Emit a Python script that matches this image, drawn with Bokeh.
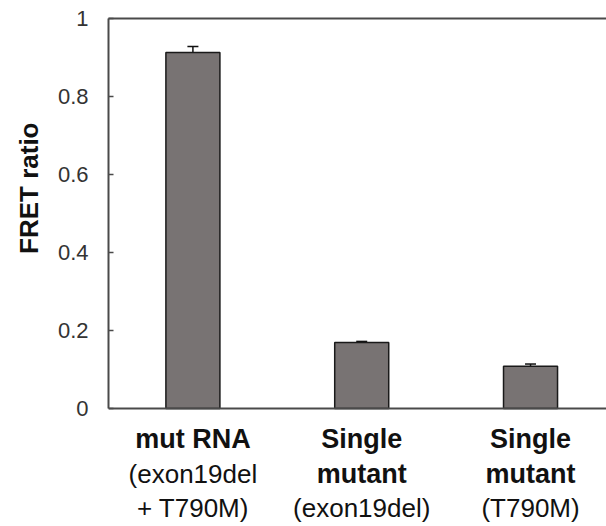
from bokeh.plotting import figure
from bokeh.models import (ColumnDataSource, Whisker, TeeHead, Range1d, LinearAxis,
                          FixedTicker, CustomJSTickFormatter, Span, Title)
from bokeh.core.properties import value
from bokeh.embed import file_html
from bokeh.resources import INLINE

# ---- data ----
categories = ["mut RNA (exon19del + T790M)", "Single mutant (exon19del)", "Single mutant (T790M)"]
fret_ratio = [0.913, 0.169, 0.108]
fret_error = [0.015, 0.003, 0.006]
y_ticks = [0, 0.2, 0.4, 0.6, 0.8, 1.0]
y_title = "FRET ratio"
label_lines = [["mut RNA", "(exon19del", "+ T790M)"],
               ["Single", "mutant", "(exon19del)"],
               ["Single", "mutant", "(T790M)"]]
label_bold = [[True, False, False],
              [True, True, False],
              [True, True, False]]

xpos = list(range(len(categories)))
src = ColumnDataSource(dict(
    x=xpos, top=fret_ratio,
    upper=[v + e for v, e in zip(fret_ratio, fret_error)],
    lower=[v - e for v, e in zip(fret_ratio, fret_error)],
))

AX = "#4a4a4a"
FONT = "Liberation Sans"
Y_BOTTOM = -0.3026   # room below zero for the category captions

p = figure(width=606, height=526, output_backend="svg", toolbar_location=None,
           x_range=Range1d(-0.5, 2.45), y_range=Range1d(Y_BOTTOM, 1),
           min_border_left=106, min_border_right=0, min_border_top=18, min_border_bottom=0,
           x_axis_location=None, y_axis_location=None)
p.outline_line_color = None
p.xgrid.visible = False
p.ygrid.visible = False
p.background_fill_color = "white"
p.border_fill_color = "white"

p.vbar(x="x", top="top", width=0.32, bottom=0, source=src,
       fill_color="#787373", line_color="#1a1a1a", line_width=1.5)

w = Whisker(base="x", upper="upper", lower="lower", source=src,
            line_color="#111111", line_width=1.5,
            upper_head=TeeHead(size=11, line_color="#111111", line_width=1.5),
            lower_head=TeeHead(size=11, line_color="#111111", line_width=1.5))
p.add_layout(w)

# baseline (x axis line)
p.add_layout(Span(location=0, dimension="width", line_color=AX, line_width=2))

# left axis: ticks, labels and line only over 0..1
yaxis = LinearAxis(ticker=FixedTicker(ticks=y_ticks), bounds=(0, 1),
                   formatter=CustomJSTickFormatter(code="return tick.toFixed(1).replace(/\\.0$/, '');"))
yaxis.major_label_text_font = FONT
yaxis.major_label_text_font_size = "22px"
yaxis.major_label_text_color = "#333333"
yaxis.major_label_standoff = 20
yaxis.major_tick_in = 5
yaxis.major_tick_out = 0
yaxis.minor_tick_line_color = None
yaxis.axis_line_color = AX
yaxis.axis_line_width = 2
yaxis.major_tick_line_color = AX
yaxis.major_tick_line_width = 1.5
p.add_layout(yaxis, "left")

# y axis title
p.add_layout(Title(text=y_title, align="right", offset=104, vertical_align="bottom",
                   text_font=FONT, text_font_style="bold", text_font_size="26px",
                   text_color="#111111", standoff=22), "left")

# top frame line
taxis = LinearAxis(ticker=FixedTicker(ticks=[]))
taxis.axis_line_color = AX
taxis.axis_line_width = 2
taxis.major_tick_line_color = None
taxis.minor_tick_line_color = None
taxis.major_label_text_font_size = "0px"
p.add_layout(taxis, "above")

# category captions
line_y = [-0.077, -0.169, -0.254]
bx, by, bt, nx, ny, nt = [], [], [], [], [], []
for xi, lines, bolds in zip(xpos, label_lines, label_bold):
    for txt, b, yy in zip(lines, bolds, line_y):
        if b:
            bx.append(xi); by.append(yy); bt.append(txt)
        else:
            nx.append(xi); ny.append(yy); nt.append(txt)

p.text(x=bx, y=by, text=bt, text_align="center", text_baseline="alphabetic",
       text_font=value(FONT), text_font_style="bold", text_font_size="27px",
       text_color="#111111")
p.text(x=nx, y=ny, text=nt, text_align="center", text_baseline="alphabetic",
       text_font=value(FONT), text_font_style="normal", text_font_size="26px",
       text_color="#111111")

open("out.html", "w").write(file_html(p, INLINE))
